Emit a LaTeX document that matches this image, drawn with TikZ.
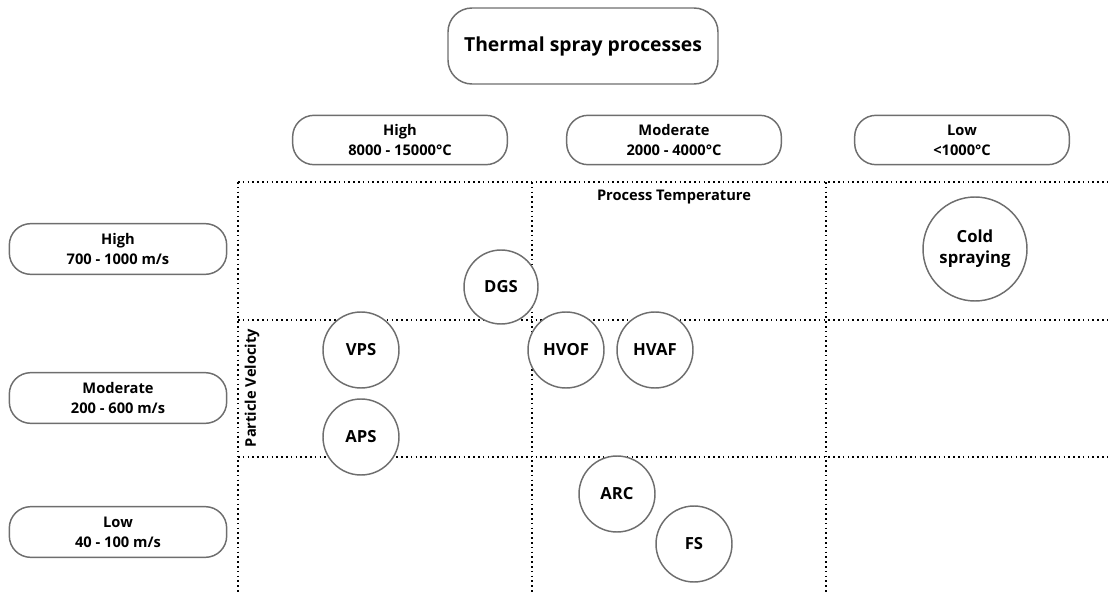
\documentclass[tikz,border=0pt]{standalone}
\usepackage{fontspec}
\setmainfont{Open Sans}
\definecolor{edge}{HTML}{6E6E6E}
\tikzset{
  pill/.style={draw=edge, line width=1.1pt, rounded corners=16pt, fill=white, align=center, font=\bfseries\fontsize{11}{15}\selectfont, inner sep=0pt},
  tempbox/.style={pill, minimum width=161pt, minimum height=37pt},
  velbox/.style={pill, minimum width=163pt, minimum height=38pt},
  proc/.style={draw=edge, line width=1.1pt, circle, fill=white, minimum size=57pt, inner sep=0pt, align=center, font=\bfseries\fontsize{12.5}{16}\selectfont},
  grid/.style={line width=1.2pt, black, dash pattern=on 1.2pt off 2.4pt},
  axislabel/.style={font=\bfseries\fontsize{11}{13}\selectfont, inner sep=0pt}
}
\begin{document}
\begin{tikzpicture}[x=0.75pt, y=-0.75pt]
\useasboundingbox (0,0) rectangle (1111,592);
% grid coordinates
\coordinate (t0) at (238,182); \coordinate (t1) at (1111,182);
\coordinate (m0) at (238,320); \coordinate (m1) at (1111,320);
\coordinate (b0) at (238,457); \coordinate (b1) at (1111,457);
\coordinate (v1a) at (238,182); \coordinate (v1b) at (238,592);
\coordinate (v2a) at (532,182); \coordinate (v2b) at (532,592);
\coordinate (v3a) at (826,182); \coordinate (v3b) at (826,592);
\draw[grid] (t0) -- (t1);
\draw[grid] (m0) -- (m1);
\draw[grid] (b0) -- (b1);
\draw[grid] (v1a) -- (v1b);
\draw[grid] (v2a) -- (v2b);
\draw[grid] (v3a) -- (v3b);

\node[pill, minimum width=202.5pt, minimum height=57pt, rounded corners=18pt, font=\bfseries\fontsize{14.5}{18}\selectfont] (title) at (583,46) {Thermal spray processes};

\node[tempbox] (th) at (400,140) {High\\8000 - 15000°C};
\node[tempbox] (tm) at (674,140) {Moderate\\2000 - 4000°C};
\node[tempbox] (tl) at (962,140) {Low\\<1000°C};

\node[velbox] (vh) at (118,249) {High\\700 - 1000 m/s};
\node[velbox] (vm) at (118,398) {Moderate\\200 - 600 m/s};
\node[velbox] (vl) at (118,532) {Low\\40 - 100 m/s};

\node[axislabel] (pt) at (674,197) {Process Temperature};
\node[axislabel, rotate=90] (pv) at (252,388) {Particle Velocity};

\node[proc, minimum size=55.5pt] (dgs) at (501,287) {DGS};
\node[proc, minimum size=78pt] (cold) at (975,249) {Cold\\spraying};
\node[proc] (vps) at (361,350) {VPS};
\node[proc] (aps) at (361,437) {APS};
\node[proc] (hvof) at (566,350) {HVOF};
\node[proc] (hvaf) at (655,350) {HVAF};
\node[proc] (arc) at (617,494) {ARC};
\node[proc] (fs) at (694,544) {FS};
\end{tikzpicture}
\end{document}
